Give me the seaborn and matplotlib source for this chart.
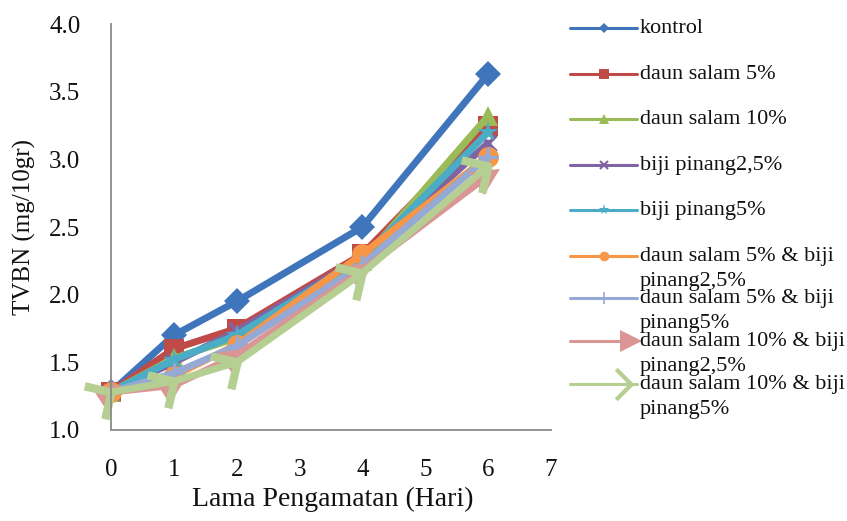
import numpy as np
import pandas as pd
import matplotlib
matplotlib.use("Agg")
import matplotlib.pyplot as plt
import seaborn as sns
from matplotlib.markers import MarkerStyle
from matplotlib.path import Path
from matplotlib.transforms import Affine2D
from matplotlib.lines import Line2D

# Observation days and TVBN readings (mg/10gr) per treatment
days = [0, 1, 2, 4, 6]
kontrol = [1.28, 1.70, 1.95, 2.50, 3.63]
daunsalam_5 = [1.28, 1.60, 1.75, 2.30, 3.25]
daunsalam_10 = [1.28, 1.53, 1.68, 2.25, 3.32]
bijipinang_25 = [1.28, 1.50, 1.73, 2.28, 3.12]
bijipinang_5 = [1.28, 1.52, 1.70, 2.27, 3.20]
ds5_bp25 = [1.28, 1.40, 1.63, 2.30, 3.02]
ds5_bp5 = [1.28, 1.42, 1.62, 2.22, 3.02]
ds10_bp25 = [1.28, 1.33, 1.55, 2.18, 2.88]
ds10_bp5 = [1.28, 1.36, 1.50, 2.16, 2.95]

labels = [
    "kontrol",
    "daun salam 5%",
    "daun salam 10%",
    "biji pinang2,5%",
    "biji pinang5%",
    "daun salam 5% & biji\npinang2,5%",
    "daun salam 5% & biji\npinang5%",
    "daun salam 10% & biji\npinang2,5%",
    "daun salam 10% & biji\npinang5%",
]
series = [kontrol, daunsalam_5, daunsalam_10, bijipinang_25, bijipinang_5,
          ds5_bp25, ds5_bp5, ds10_bp25, ds10_bp5]

x_ticks = [0, 1, 2, 3, 4, 5, 6, 7]
y_ticks = [1.0, 1.5, 2.0, 2.5, 3.0, 3.5, 4.0]

colors = ["#3F75BB", "#BE4B48", "#9BBB59", "#8064A2", "#4BACC6",
          "#F79646", "#95A9D4", "#D99694", "#B5CF92"]

sns.set_style("white")
plt.rcParams["font.family"] = ["Liberation Serif", "DejaVu Serif"]

# open chevron marker, rotated to follow the rising lines
chevron = Path([(-1, 1), (0, 0), (-1, -1)],
               [Path.MOVETO, Path.LINETO, Path.LINETO])
rot = Affine2D().rotate_deg(32)
m_chevron = MarkerStyle(chevron, transform=rot)
m_tri = MarkerStyle(">", transform=rot)

plot_styles = [
    dict(marker="D", ms=13, mew=0),
    dict(marker="s", ms=15, mew=0),
    dict(marker="^", ms=15, mew=0),
    dict(marker="x", ms=12, mew=2.5),
    dict(marker="*", ms=16, mew=0),
    dict(marker="o", ms=15, mew=0),
    dict(marker="+", ms=14, mew=2.5),
    dict(marker=m_tri, ms=20, mew=0),
    dict(marker=m_chevron, ms=28, mew=6, fillstyle="none"),
]

rows = []
for lab, vals in zip(labels, series):
    for d, v in zip(days, vals):
        rows.append({"Hari": d, "TVBN": v, "Perlakuan": lab})
df = pd.DataFrame(rows)

W, H = 847, 521
fig = plt.figure(figsize=(W / 100, H / 100), dpi=100)
ax_left, ax_right, ax_top, ax_bot = 111, 551, 24, 430
ax = fig.add_axes([ax_left / W, 1 - ax_bot / H,
                   (ax_right - ax_left) / W, (ax_bot - ax_top) / H])

for lab, col, st in zip(labels, colors, plot_styles):
    sub = df[df["Perlakuan"] == lab]
    sns.lineplot(data=sub, x="Hari", y="TVBN", ax=ax, color=col,
                 linewidth=5, marker=st["marker"], markersize=st["ms"],
                 markeredgewidth=st["mew"], markeredgecolor=col,
                 markerfacecolor=col if st.get("fillstyle") != "none" else "none",
                 legend=False, solid_capstyle="round", clip_on=False)

ax.set_xlim(0, 7)
ax.set_ylim(1.0, 4.0)
ax.set_xticks(x_ticks)
ax.set_yticks(y_ticks)
ax.set_yticklabels([f"{v:.1f}" for v in y_ticks])
ax.tick_params(axis="both", length=0, labelsize=18, colors="#111111")
ax.tick_params(axis="x", pad=21)
ax.tick_params(axis="y", pad=22)
for s in ["top", "right"]:
    ax.spines[s].set_visible(False)
for s in ["left", "bottom"]:
    ax.spines[s].set_color("#8A8A8A")
    ax.spines[s].set_linewidth(1.3)

ax.set_xlabel("Lama Pengamatan (Hari)", fontsize=20, color="#111111")
ax.set_ylabel("TVBN (mg/10gr)", fontsize=18, color="#111111")
ax.xaxis.set_label_coords(0.505, -0.14)
ax.yaxis.set_label_coords(-0.17, 0.5)

# legend drawn entry by entry so wrapped labels keep the tight row pitch
legend_y = [28, 74, 119, 165, 210, 256, 298, 341, 384]
leg_styles = [
    dict(marker="D", ms=5, mew=0),
    dict(marker="s", ms=7, mew=0),
    dict(marker="^", ms=7, mew=0),
    dict(marker="x", ms=6, mew=1.5),
    dict(marker="*", ms=8, mew=0),
    dict(marker="o", ms=7, mew=0),
    dict(marker="+", ms=8, mew=1.2),
    dict(marker=">", ms=16, mew=0),
    dict(marker=Path([(-1, 1), (0, 0), (-1, -1)],
                     [Path.MOVETO, Path.LINETO, Path.LINETO]),
         ms=22, mew=3, fillstyle="none"),
]
x0, x1 = 570, 637
for lab, col, st, yy in zip(labels, colors, leg_styles, legend_y):
    yf = 1 - yy / H
    fig.add_artist(Line2D([x0 / W, x1 / W], [yf, yf], transform=fig.transFigure,
                          color=col, linewidth=2.2))
    xm = (x1 - 6) / W if st["marker"] not in ("D", "s", "^", "x", "*", "o", "+") else (x0 + x1) / 2 / W
    fig.add_artist(Line2D([xm], [yf], transform=fig.transFigure, color=col,
                          marker=st["marker"], markersize=st["ms"],
                          markeredgewidth=st["mew"], markeredgecolor=col,
                          markerfacecolor=col if st.get("fillstyle") != "none" else "none",
                          linestyle="none"))
    fig.text(640 / W, yf + 9 / H, lab, fontsize=16, color="#111111",
             ha="left", va="top", linespacing=1.45,
             transform=fig.transFigure)

fig.savefig("out.png", dpi=100)
